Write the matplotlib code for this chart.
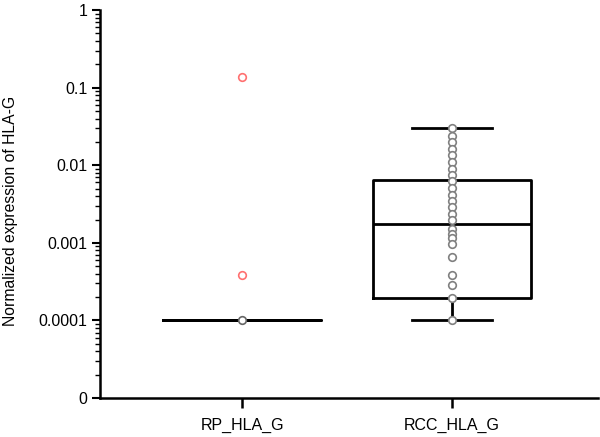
import matplotlib.pyplot as plt
import numpy as np

plt.rcParams['font.family'] = ['Liberation Sans', 'DejaVu Sans']

groups = ['RP_HLA_G', 'RCC_HLA_G']

# box statistics
rp_stats = dict(med=0.0001, q1=0.0001, q3=0.0001, whislo=0.0001, whishi=0.0001)
rcc_stats = dict(med=0.00177, q1=0.000195, q3=0.0064, whislo=0.0001, whishi=0.0305)

rp_points = [0.0001]
rp_outliers = [0.138, 0.00038]
rcc_points = [0.0301, 0.0238, 0.0199, 0.0164, 0.0134, 0.0110, 0.00885, 0.00741,
              0.00621, 0.00509, 0.00419, 0.00343, 0.00290, 0.00238, 0.00195,
              0.00153, 0.00132, 0.00114, 0.00098, 0.00066, 0.00039, 0.00029,
              0.000195, 0.0001]

yticks = [1e-5, 1e-4, 1e-3, 1e-2, 1e-1, 1]
yticklabels = ['0', '0.0001', '0.001', '0.01', '0.1', '1']

fig = plt.figure(figsize=(6, 4.37), dpi=100)
ax = fig.add_axes([0.167, 0.089, 0.83, 0.888])

stats = [dict(rp_stats, label=groups[0]), dict(rcc_stats, label=groups[1])]
for s in stats:
    s['fliers'] = []
ax.bxp(stats, positions=[1, 2], widths=0.75, capwidths=0.38, showfliers=False,
       boxprops=dict(color='black', linewidth=2),
       medianprops=dict(color='black', linewidth=2),
       whiskerprops=dict(color='black', linewidth=2),
       capprops=dict(color='black', linewidth=2))

ax.scatter([1] * len(rp_points), rp_points, s=30, facecolor='white',
           edgecolor='#666666', linewidth=1.2, zorder=3)
ax.scatter([1] * len(rp_outliers), rp_outliers, s=30, facecolor='white',
           edgecolor='#ff7070', linewidth=1.2, zorder=3)
ax.scatter([2] * len(rcc_points), rcc_points, s=30, facecolor='white',
           edgecolor='#808080', linewidth=1.2, zorder=3)

ax.set_yscale('log')
ax.set_ylim(1e-5, 1)
ax.set_xlim(0.324, 2.695)
ax.set_yticks(yticks)
ax.set_yticklabels(yticklabels)
ax.set_xticks([1, 2])
ax.set_xticklabels(groups)

ax.spines['top'].set_visible(False)
ax.spines['right'].set_visible(False)
ax.spines['left'].set_linewidth(1.8)
ax.spines['bottom'].set_linewidth(1.8)
ax.tick_params(axis='y', which='major', length=6, width=1.5, labelsize=11.5, pad=3)
ax.tick_params(axis='y', which='minor', length=3.5, width=1)
ax.tick_params(axis='x', which='major', length=7, width=1.8, labelsize=11.5, pad=7)

ax.set_ylabel('Normalized expression of HLA-G', fontsize=11.3)
ax.yaxis.set_label_coords(-0.165, 0.482)

plt.savefig('out.png', dpi=100)
